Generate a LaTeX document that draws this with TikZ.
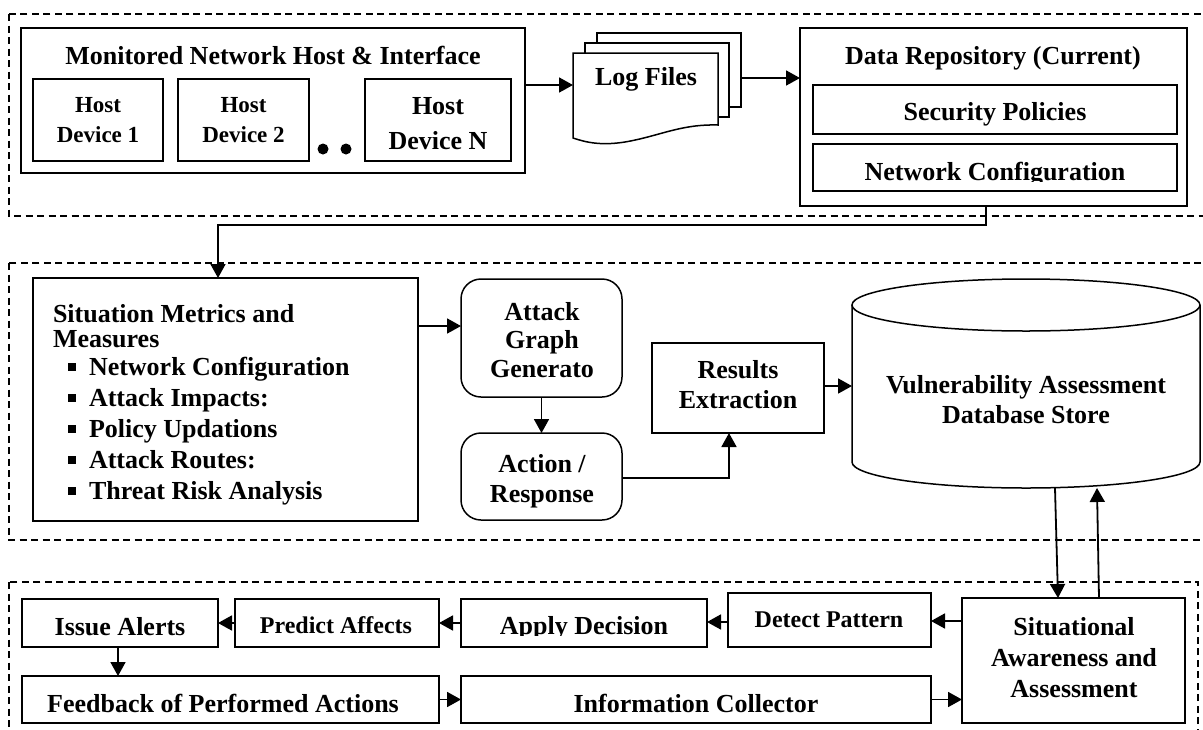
\documentclass[tikz,border=0pt]{standalone}
\usepackage{fontspec}
\setmainfont{Liberation Serif}
\usetikzlibrary{arrows.meta}
\lineskiplimit=-100pt
\newcommand\smbullet{\hspace*{15pt}\rule[5pt]{7.5pt}{7.5pt}\hspace*{13.5pt}}
\begin{document}
\begin{tikzpicture}[x=1pt,y=-1pt,
  every node/.style={inner sep=0pt,outer sep=0pt,font=\bfseries\fontsize{26}{30}\selectfont},
  frame/.style={draw,line width=1.5pt},
  rframe/.style={draw,line width=1.5pt,rounded corners=20pt},
  group/.style={draw,line width=1.2pt,dash pattern=on 7pt off 4.5pt},
  conn/.style={line width=1.8pt,-{Triangle[length=14pt,width=15pt]}},
  sheet/.style={draw,fill=white,line width=1.5pt},
  ml/.style={align=center,anchor=north},
  small/.style={font=\bfseries\fontsize{23}{30}\selectfont},
  mid/.style={font=\bfseries\fontsize{24}{30}\selectfont}
]
\useasboundingbox (0,0) rectangle (1203,729);
\fill[white] (0,0) rectangle (1203,729);
\clip (0,0) rectangle (1203,729);

% ---- group frames
\draw[group] (9,14) rectangle (1225,216);
\draw[group] (9,263) rectangle (1225,540);
\draw[group] (9,582) rectangle (1198,760);

% ================= top row =================
\node[frame,minimum width=504pt,minimum height=145pt] (host) at (273,100.5) {};
\node[anchor=base] (hosttitle) at (273,64) {Monitored Network Host \& Interface};
\node[frame,minimum width=130pt,minimum height=82pt] (hd1) at (98,120) {};
\node[frame,minimum width=131pt,minimum height=82pt] (hd2) at (243.5,120) {};
\node[frame,minimum width=146pt,minimum height=82pt] (hdn) at (438,120) {};
\node[ml,small] (hd1t) at (98,97.7) {Host\\Device 1};
\node[ml,small] (hd2t) at (243.5,97.7) {Host\\Device 2};
\node[ml,font=\bfseries\fontsize{26}{35}\selectfont] (hdnt) at (438,97.5) {Host\\Device N};
\fill (323,149) circle[radius=5.5pt];
\fill (346,149) circle[radius=5.5pt];

% log files: stacked pages
\draw[sheet] (597,33) rectangle (741,107);
\draw[sheet] (585,43) rectangle (729,117);
\draw[sheet] (573,53) -- (718,53) -- (718,125)
  .. controls (680,124) and (660,136) .. (625,142)
  .. controls (600,146) and (585,142) .. (573,138) -- cycle;
\node[minimum width=144pt,minimum height=74pt] (logback) at (669,70) {};
\node[minimum width=145pt,minimum height=85pt] (logfront) at (645.5,95) {};
\node[anchor=base] (logt) at (646,85) {Log Files};

% data repository
\node[frame,minimum width=387pt,minimum height=178pt] (repo) at (993.5,117) {};
\node[anchor=base] (repot) at (993,64) {Data Repository (Current)};
\node[frame,minimum width=364pt,minimum height=49pt] (sec) at (995,109.5) {};
\node[anchor=base] (sect) at (995,120) {Security Policies};
\node[frame,minimum width=364pt,minimum height=47pt] (netc) at (995,167.5) {};
\begin{scope}
  \clip (813,144) rectangle (1177,181);
  \node[anchor=base] (netct) at (995,180.5) {Network Configuration};
\end{scope}

% ================= middle row =================
\node[frame,minimum width=385pt,minimum height=243pt] (sm) at (225.5,399.5) {};
\node[anchor=north west,align=left,font=\bfseries\fontsize{26}{25}\selectfont] (smt) at (53,304.5)
  {Situation Metrics and\\Measures\\[3pt]
   \smbullet Network Configuration\\[6pt]
   \smbullet Attack Impacts:\\[6pt]
   \smbullet Policy Updations\\[6pt]
   \smbullet Attack Routes:\\[6pt]
   \smbullet Threat Risk Analysis};

\node[rframe,minimum width=161pt,minimum height=118pt] (ag) at (541.5,338) {};
\node[ml,font=\bfseries\fontsize{26}{28.5}\selectfont] (agt) at (542,302.4) {Attack\\Graph\\Generato};
\node[rframe,minimum width=161pt,minimum height=87pt] (ar) at (541.5,476.5) {};
\node[ml] (art) at (542,454.5) {Action /\\Response};
\node[frame,minimum width=172pt,minimum height=90pt] (re) at (738,388) {};
\node[ml] (ret) at (738,360.4) {Results\\Extraction};

% database cylinder
\draw[line width=1.5pt] (1026,305) ellipse[x radius=174pt,y radius=26pt];
\draw[line width=1.5pt] (852,305) -- (852,462)
  arc[start angle=180,end angle=360,x radius=174pt,y radius=26pt] -- (1200,305);
\node[minimum width=348pt,minimum height=209pt] (db) at (1026,383.5) {};
\node[ml] (dbt) at (1026,375.4) {Vulnerability Assessment\\Database Store};

% ================= bottom row =================
\node[frame,minimum width=196pt,minimum height=48pt] (ia) at (120,623) {};
\node[anchor=base] (iat) at (120,635) {Issue Alerts};
\node[frame,minimum width=204pt,minimum height=48pt] (pa) at (337,623) {};
\node[anchor=base,mid] (pat) at (336,633) {Predict Affects};
\node[frame,minimum width=246pt,minimum height=48pt] (ad) at (584,623) {};
\begin{scope}
  \clip (461,599) rectangle (707,635.5);
  \node[anchor=base] (adt) at (584,634.5) {Apply Decision};
\end{scope}
\node[frame,minimum width=203pt,minimum height=54pt] (dp) at (829.5,620) {};
\node[anchor=base,mid] (dpt) at (829,627) {Detect Pattern};
\node[frame,minimum width=223pt,minimum height=125pt] (sa) at (1073.5,660.5) {};
\node[ml,font=\bfseries\fontsize{26}{31}\selectfont] (sat) at (1074,617.4) {Situational\\Awareness and\\Assessment};
\node[frame,minimum width=417pt,minimum height=47pt] (fb) at (230.5,699.5) {};
\node[anchor=base] (fbt) at (223,712) {Feedback of Performed Actions};
\node[frame,minimum width=470pt,minimum height=47pt] (ic) at (696,699.5) {};
\node[anchor=base] (ict) at (696,712) {Information Collector};

% ================= connectors =================
\draw[conn] ([yshift=15.5pt]host.east) -- ([yshift=15.5pt]host.east -| logfront.west);
\draw[conn] ([yshift=-8pt]logback.east) -- ([yshift=-8pt]logback.east -| repo.west);
\draw[conn] ([xshift=-7.5pt]repo.south) -- ++(0,19) -| ([xshift=-7.5pt]sm.north);
\draw[conn] ([yshift=73.5pt]sm.east) -- ([yshift=73.5pt]sm.east -| ag.west);
\draw[conn] (ag.south) -- (ar.north);
\draw[conn] ([yshift=-1.5pt]ar.east) -| ([xshift=-9pt]re.south);
\draw[conn] ([yshift=2pt]re.east) -- ([yshift=2pt]re.east -| db.west);
\draw[conn] ([xshift=29pt]db.south) -- ([xshift=-15.5pt]sa.north);
\draw[conn] ([xshift=25.5pt]sa.north) -- ([xshift=71pt]db.south);
\draw[conn] ([yshift=39.5pt]sa.west) -- ([yshift=39.5pt]sa.west -| dp.east);
\draw[conn] ([yshift=-2pt]dp.west) -- ([yshift=-2pt]dp.west -| ad.east);
\draw[conn] (ad.west) -- (pa.east);
\draw[conn] (pa.west) -- (ia.east);
\draw[conn] ([xshift=-2pt]ia.south) -- ([xshift=-2pt]ia.south |- fb.north);
\draw[conn] (fb.east) -- (ic.west);
\draw[conn] (ic.east) -- (ic.east -| sa.west);
\end{tikzpicture}
\end{document}
